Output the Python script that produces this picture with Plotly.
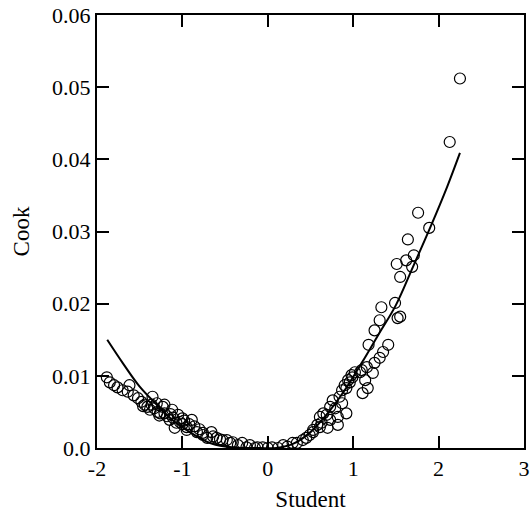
import plotly.graph_objects as go

# Scatter points: studentized residual vs Cook's distance
student = [
    -1.885, -1.85, -1.80, -1.76, -1.70, -1.64, -1.62, -1.57, -1.52, -1.48,
    -1.46, -1.44, -1.41, -1.38, -1.35, -1.36, -1.33, -1.30, -1.29, -1.27,
    -1.26, -1.23, -1.21, -1.21, -1.18, -1.15, -1.14, -1.12, -1.11, -1.09,
    -1.07, -1.05, -1.03, -1.00, -1.00, -0.98, -0.95, -0.95, -0.92, -0.89,
    -0.86, -0.83, -0.80, -0.76, -0.76, -0.71, -0.66, -0.64, -0.60, -0.56,
    -0.53, -0.48, -0.44, -0.41, -0.35, -0.30, -0.25, -0.21, -0.15, -0.12,
    -0.06, 0.00, 0.05, 0.12, 0.18, 0.23, 0.29, 0.34, 0.41, 0.45,
    0.49, 0.53, 0.53, 0.58, 0.61, 0.61, 0.63, 0.65, 0.69, 0.70,
    0.73, 0.73, 0.76, 0.79, 0.82, 0.82, 0.84, 0.87, 0.87, 0.90,
    0.92, 0.92, 0.94, 0.96, 0.98, 0.99, 1.02, 1.08, 1.10, 1.11,
    1.14, 1.16, 1.17, 1.18, 1.23, 1.25, 1.25, 1.31, 1.31, 1.33,
    1.35, 1.41, 1.49, 1.51, 1.52, 1.55, 1.55, 1.62, 1.64, 1.69,
    1.71, 1.76, 1.89, 2.13, 2.25,
]
cook = [
    0.0098, 0.0091, 0.0087, 0.0084, 0.0080, 0.0078, 0.0087, 0.0073, 0.0069, 0.0064,
    0.0058, 0.0060, 0.0057, 0.0053, 0.0071, 0.0060, 0.0055, 0.0062, 0.0050, 0.0045,
    0.0048, 0.0057, 0.0060, 0.0048, 0.0044, 0.0039, 0.0047, 0.0053, 0.0042, 0.0028,
    0.0035, 0.0046, 0.0036, 0.0041, 0.0033, 0.0038, 0.0029, 0.0025, 0.0033, 0.0039,
    0.0030, 0.0022, 0.0026, 0.0021, 0.0018, 0.0014, 0.0022, 0.0016, 0.0014, 0.0012,
    0.0011, 0.0011, 0.0007, 0.0008, 0.0004, 0.0007, 0.0001, 0.0004, 0.0000, 0.0001,
    0.0001, 0.0000, 0.0001, 0.0000, 0.0004, 0.0002, 0.0007, 0.0007, 0.0011, 0.0014,
    0.0018, 0.0025, 0.0022, 0.0032, 0.0043, 0.0029, 0.0035, 0.0048, 0.0046, 0.0028,
    0.0057, 0.0039, 0.0066, 0.0055, 0.0043, 0.0032, 0.0071, 0.0080, 0.0062, 0.0087,
    0.0083, 0.0048, 0.0094, 0.0091, 0.0101, 0.0098, 0.0105, 0.0105, 0.0108, 0.0076,
    0.0094, 0.0112, 0.0083, 0.0143, 0.0104, 0.0118, 0.0163, 0.0125, 0.0177, 0.0195,
    0.0133, 0.0143, 0.0201, 0.0255, 0.0180, 0.0237, 0.0182, 0.0260, 0.0289, 0.0251,
    0.0267, 0.0326, 0.0305, 0.0424, 0.0512,
]

# Smooth fitted curve
fit_x = [-1.88, -1.7, -1.5, -1.3, -1.1, -0.9, -0.7, -0.5, -0.3, -0.1,
         0.1, 0.3, 0.5, 0.7, 0.9, 1.1, 1.3, 1.5, 1.7, 1.9, 2.1, 2.25]
fit_y = [0.0150, 0.0118, 0.0085, 0.0060, 0.0037, 0.0021, 0.0008, 0.0002, 0.0000, 0.0000,
         0.0000, 0.0006, 0.0022, 0.0048, 0.0080, 0.0118, 0.0158, 0.0198, 0.0251, 0.0305,
         0.0362, 0.0409]

x_ticks = [-2, -1, 0, 1, 2, 3]
y_ticks = [0.0, 0.01, 0.02, 0.03, 0.04, 0.05, 0.06]
y_ticktext = ["0.0", "0.01", "0.02", "0.03", "0.04", "0.05", "0.06"]

FONT = "Liberation Serif, Times New Roman, serif"

fig = go.Figure()
fig.add_trace(go.Scatter(
    x=student, y=cook, mode="markers",
    marker=dict(symbol="circle-open", size=11, color="black", line=dict(width=1.2, color="black")),
    showlegend=False,
))
fig.add_trace(go.Scatter(
    x=fit_x, y=fit_y, mode="lines",
    line=dict(color="black", width=2, shape="spline"),
    showlegend=False,
))

axis_common = dict(
    showgrid=False, zeroline=False, showline=True, linecolor="black", linewidth=2,
    mirror="ticks", ticks="inside", ticklen=12, tickwidth=1.5, tickcolor="black",
    tickfont=dict(family=FONT, size=22, color="black"),
)

fig.update_layout(
    width=530, height=514,
    margin=dict(l=97, r=6, t=15, b=66, autoexpand=False),
    paper_bgcolor="white", plot_bgcolor="white",
    font=dict(family=FONT, color="black"),
    xaxis=dict(range=[-2, 3], tickvals=x_ticks, ticktext=[str(v) for v in x_ticks],
               title=dict(text="Student", font=dict(family=FONT, size=23), standoff=10),
               **axis_common),
    yaxis=dict(range=[0, 0.06], tickvals=y_ticks, ticktext=y_ticktext,
               title=dict(text="Cook", font=dict(family=FONT, size=23), standoff=16),
               **axis_common),
)

fig.write_html("out.html")
